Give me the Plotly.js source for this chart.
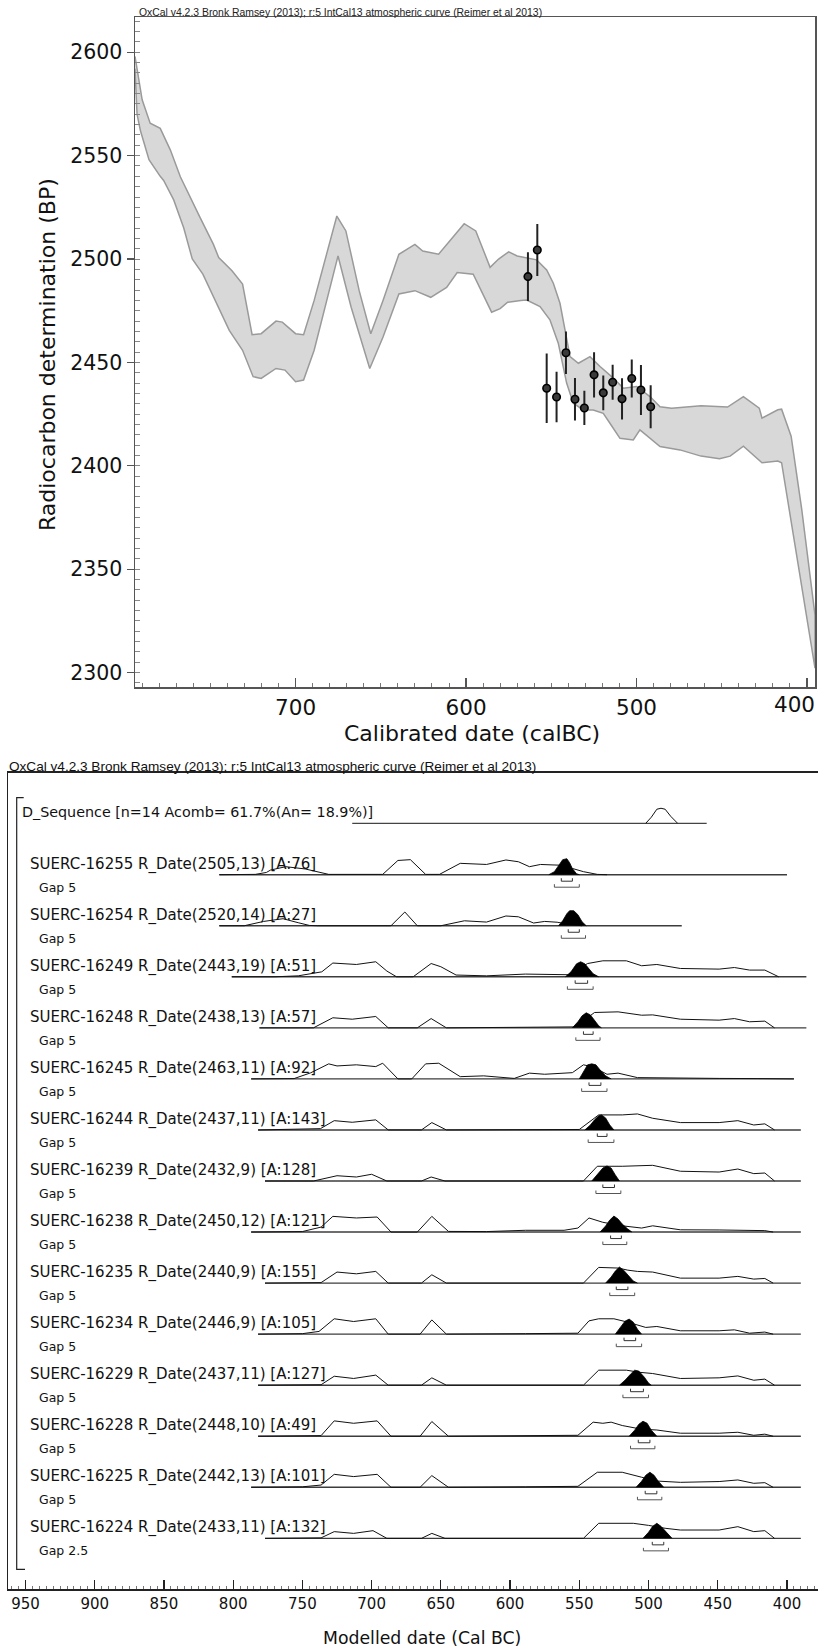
<!DOCTYPE html>
<html><head><meta charset="utf-8">
<script src="https://cdn.plot.ly/plotly-3.0.1.min.js"></script>
<style>html,body{margin:0;padding:0;background:#fff}#chart{width:818px;height:1647px}</style>
</head><body><div id="chart"></div>
<script>
// ---------------- Top panel data: IntCal13 band and measurements ----------------
const curveUpperDate = [794.2,790,785.3,779.4,773.5,767.6,756,748.2,745.1,737.3,731.1,725.5,720.2,711.5,707.8,700,695.3,689.1,675.8,670.5,662.7,655.9,648.7,639.4,630,625.4,616.1,609.8,601.1,594.3,585.9,580.9,575,570,564.4,558.6,552.7,548.8,544.9,542,539,534.1,527.3,521.4,513.6,507.7,499.9,492.1,486.2,479.4,462.2,446.6,437.3,428,426.4,417.1,414.9,409.3,403.1,395.3];
const curveUpperBP = [2598,2577,2565.7,2563.2,2552.8,2539.8,2520,2507.1,2500.7,2494.3,2487.9,2463.4,2463.9,2470,2469.5,2463.9,2463.4,2480,2520.8,2513.6,2484.7,2463.9,2480,2502.3,2507.1,2503.9,2502.3,2508.7,2517.1,2513.6,2496,2500,2503.5,2501.5,2500.4,2499.6,2494.7,2488.3,2478.6,2465.7,2452.8,2449.6,2452.8,2448,2442.4,2437.5,2438.3,2433.5,2428.6,2427.9,2429,2428.4,2433.5,2427.9,2423.1,2427.1,2427.4,2414.3,2379.1,2327.8];
const curveLowerDate = [794.2,793,791,786,779.4,777.4,771.5,765.6,760.6,754.4,745.1,738.9,731.1,724.9,720.2,711.5,706.2,700,695.3,689.1,675.1,667.4,656.5,648.7,639.4,630,620.7,611.4,605.2,595.8,585,580,575.6,567.9,564.4,556.6,550.8,545.9,541,537.1,531.2,525.4,519.5,515.6,509.7,501.9,498,486.2,474.5,462.2,451.3,445.1,437.3,426.4,417.1,414.9,395.3];
const curveLowerBP = [2592,2570,2562,2548,2540,2538,2528.6,2515,2500,2492.7,2476.7,2465.5,2455.9,2443.1,2442.3,2447.1,2446.3,2440.7,2441.5,2455.9,2501.5,2476.7,2447.1,2462.3,2483.1,2484.7,2481.5,2486.3,2493.5,2492.7,2474.3,2476,2479.1,2480,2480.2,2477,2470.6,2459.3,2440,2430.3,2427,2427,2425.4,2420.6,2413.3,2412.5,2417.4,2409.3,2407.7,2404.7,2403.4,2404.7,2409.5,2401.5,2402.3,2401.5,2302.2];
const pointDate = [563.7,558.2,552.7,546.9,541.4,536.1,530.6,524.9,519.5,514,508.5,502.8,497.4,491.7];
const pointBP = [2491.5,2504.4,2437.5,2433.3,2454.7,2432.2,2428,2444,2435.3,2440.4,2432.4,2442.2,2436.7,2428.6];
const pointErr = [11.3,12.1,16.3,11.7,9.8,9.8,7.8,10.5,7.9,8,9.5,8.7,11.6,9.9];
const topTicksBP = [2300,2350,2400,2450,2500,2550,2600];
const topTicksCal = [400,500,600,700];

// ---------------- Bottom panel data: OxCal multiplot ----------------
const sampleNames = ['SUERC-16255','SUERC-16254','SUERC-16249','SUERC-16248','SUERC-16245','SUERC-16244','SUERC-16239','SUERC-16238','SUERC-16235','SUERC-16234','SUERC-16229','SUERC-16228','SUERC-16225','SUERC-16224'];
const sampleAge = [2505,2520,2443,2438,2463,2437,2432,2450,2440,2446,2437,2448,2442,2433];
const sampleSigma = [13,14,19,13,11,11,9,12,9,9,11,10,13,11];
const sampleAgreement = [76,27,51,57,92,143,128,121,155,105,127,49,101,132];
const gapValues = [5,5,5,5,5,5,5,5,5,5,5,5,5,2.5];
const sequenceLabel = 'D_Sequence [n=14 Acomb= 61.7%(An= 18.9%)]';
const sequenceSpan = [714,458];
const sequenceDate = [502,498,494,491,488,484,479];
const sequenceProb = [0,38,88,94,88,44,0];
const spanStart = [810,810,801,781,787,782,777,787,777,782,782,782,787,777];
const spanEnd = [400,476,386,386,395,390,390,390,390,390,390,390,390,390];
const likDate = [
 [810,790,784,776,773,762,748,731,692,681,672,661,651,636,617,603,594,586,578,569,562,555,547,537,530],
 [810,792,778,764,753,745,739,686,676,667,650,633,617,603,594,583,575,566,560,553,548],
 [801,770,753,736,728,711,697,689,682,670,657,650,639,617,589,566,558,544,533,516,505,494,477,449,438,427,416,406],
 [781,742,728,714,697,688,667,657,646,569,553,539,522,505,497,477,449,438,427,416,409],
 [787,756,744,731,725,711,697,692,681,671,661,651.5,636,619,597,586,575,555,547,540,530,522,508,477,449,421,395],
 [782,737,727,714,697,688,664,656.5,646,550,536,519,508,497,477,449,435.5,424,416,409],
 [777,742,725,711,700,689,664,657,647,547,537,519,497,477,449,435.5,424,416,409],
 [787,750,736.5,728,711,696,686,667,656.5,644.5,617,589,561,551,543,533,520,505,497,477,449,435.5,416,410],
 [777,736.5,725,711,697,688,664,656.5,646,547,536,522,515,508,497,477,449,435.5,424,416,410],
 [782,750,738,727,713,697,688,665,656.5,646,589,551,543,536,525,515,502,494,477,449,438,427,416,410],
 [782,736.5,727,713,697,688,664,656.5,646,547,536,516,507,497,477,449,435.5,424,416,409],
 [782,736.5,727,713,696,686,665,656.5,644.5,589,551,540,533,527,519,505,494,477,449,435.5,424,416,410],
 [787,750,736.5,727,713,696,686,665,656.5,644.5,589,551,537,519,505,494,477,449,435.5,424,416,410],
 [777,736.5,727,713,699,689,664,656.5,647,547,536,511,500,488,477,449,435.5,424,416,409]
];
const likProb = [
 [0,0,2,14,29,50,36,2,2,89,94,2,2,71,64,92,81,50,64,61,59,39,19,2,0],
 [0,0,27,44,19,2,0,0,86,0,0,31,23,61,56,17,27,22,13,3,0],
 [0,0,6,31,86,77,94,36,0,0,83,63,11,6,17,11,13,83,100,100,69,77,52,48,58,42,42,0],
 [0,0,63,54,71,0,0,58,0,4,6,96,100,79,81,54,48,58,38,42,0],
 [0,2,38,94,81,88,77,98,0,0,94,98,14,19,3,36,29,39,88,75,29,36,8,3,3,2,0],
 [0,8,58,48,63,0,0,46,0,3,94,94,100,73,46,46,58,31,38,0],
 [0,0,33,25,42,0,0,25,0,0,92,92,98,61,56,75,46,50,0],
 [0,3,31,98,88,94,0,0,98,4,3,11,11,25,88,61,40,25,39,14,13,13,9,0],
 [0,3,69,58,73,0,0,52,0,0,98,94,81,73,69,31,31,42,25,29,0],
 [0,3,17,96,79,96,0,0,89,0,3,6,83,96,96,75,42,48,21,21,27,6,13,0],
 [0,3,56,42,63,0,0,46,0,0,94,94,81,73,42,46,58,31,38,0],
 [0,4,96,81,96,0,0,92,0,4,6,88,81,88,67,44,39,19,19,25,6,13,0],
 [0,3,14,81,67,81,0,0,73,0,3,6,94,94,63,39,31,36,46,25,29,0],
 [0,3,42,31,48,0,0,31,0,0,94,94,81,63,52,52,73,42,48,0]
];
const postDate = [
 [572,568,565,562,559,557,555,552,550],
 [565,562,559,557,554,551,548,545],
 [560,556,552,549,546,543,540,536],
 [555,551,548,545,542,539,536,534],
 [550,547,544,541,538,535,531,527],
 [546,542,539,536,534,531,528,525],
 [541,537,533,530,527,524,521],
 [535,531,528,525,522,519,515,512],
 [531,527,524,521,518,514,511,508],
 [524,520,517,514,511,508,505],
 [521,517,513,510,507,503,500,498],
 [514,510,507,504,501,498,494],
 [509,505,502,499,496,493,489],
 [504,500,497,494,491,487,483]
];
const postProb = [
 [0,19,56,94,100,75,38,6,0],
 [0,31,75,94,94,69,25,0],
 [0,31,81,94,81,50,19,0],
 [0,38,75,94,81,44,13,0],
 [0,44,88,94,88,56,19,0],
 [0,31,63,88,94,75,31,0],
 [0,38,81,94,81,38,0],
 [0,38,75,100,81,50,19,0],
 [0,38,75,100,81,38,13,0],
 [0,44,81,94,75,31,0],
 [0,31,69,94,88,50,13,0],
 [0,38,75,94,81,38,0],
 [0,38,75,94,75,38,0],
 [0,38,75,94,75,38,0]
];
const range68From = [563,558,553,547,543,537,533,527.4,523.3,517.7,513,507.4,502.4,497.3];
const range68To   = [555,550,544,540,534.4,530,524.6,519.6,514.9,509.3,503.7,499,494,489];
const range95From = [568,563,558.6,552.5,548.3,543.6,538,533,528,523.3,518.5,513,508,503.7];
const range95To   = [550,545.5,540,535,530,525,520,515.7,510,505,500,495.4,490.4,485.6];
const bottomTicks = [400,450,500,550,600,650,700,750,800,850,900,950];

// ---------------- geometry (layout only) ----------------
const W = 818, H = 1647;
const FONT = 'DejaVu Sans, Verdana, sans-serif';
const px = v => v / W;            // x pixel -> paper
const py = v => 1 - v / H;        // y pixel -> paper
const BOT_TOP = 772.7, BOT_BOTTOM = 1589.3;
const rowBase = i => (BOT_BOTTOM - 874.7) - 51.05 * i;   // y2 units = pixels
const seqBase = BOT_BOTTOM - 823.3;
const PROB_PX = 0.16;
const TOP_X_RANGE = [794.2, 395.3];

const traces = [];
traces.push({
  x: curveUpperDate.concat(curveLowerDate.slice().reverse()),
  y: curveUpperBP.concat(curveLowerBP.slice().reverse()),
  xaxis:'x', yaxis:'y', mode:'lines', fill:'toself', fillcolor:'#d8d8d8',
  line:{color:'#9a9a9a', width:1.5}, hoverinfo:'skip', showlegend:false
});
traces.push({
  x: pointDate, y: pointBP, xaxis:'x', yaxis:'y', mode:'markers',
  marker:{color:'#3a3a3a', size:7.5, line:{color:'#000', width:1.6}},
  error_y:{type:'data', array:pointErr, visible:true, color:'#222', thickness:2, width:1},
  showlegend:false
});

traces.push({x: sequenceSpan, y:[seqBase, seqBase], xaxis:'x2', yaxis:'y2', mode:'lines', line:{color:'#444', width:1.3}, showlegend:false, hoverinfo:'skip'});
traces.push({x: sequenceDate, y: sequenceProb.map(p => seqBase + p*PROB_PX), xaxis:'x2', yaxis:'y2', mode:'lines', line:{color:'#111', width:1}, showlegend:false});

const annotations = [];
const shapes = [];
sampleNames.forEach((name, i) => {
  const b = rowBase(i);
  traces.push({x:[spanStart[i], spanEnd[i]], y:[b,b], xaxis:'x2', yaxis:'y2', mode:'lines', line:{color:'#3c3c3c', width:1.4}, showlegend:false, hoverinfo:'skip'});
  traces.push({x: likDate[i], y: likProb[i].map(p => b + p*PROB_PX), xaxis:'x2', yaxis:'y2', mode:'lines', line:{color:'#111', width:1}, showlegend:false});
  traces.push({x: postDate[i], y: postProb[i].map(p => b + p*PROB_PX), xaxis:'x2', yaxis:'y2', mode:'lines', fill:'toself', fillcolor:'#000', line:{color:'#000', width:0.8}, showlegend:false});
  traces.push({x:[range68From[i],range68From[i],range68To[i],range68To[i]], y:[b-3.5,b-6.5,b-6.5,b-3.5], xaxis:'x2', yaxis:'y2', mode:'lines', line:{color:'#333', width:1}, showlegend:false, hoverinfo:'skip'});
  traces.push({x:[range95From[i],range95From[i],range95To[i],range95To[i]], y:[b-9.5,b-12.5,b-12.5,b-9.5], xaxis:'x2', yaxis:'y2', mode:'lines', line:{color:'#555', width:1}, showlegend:false, hoverinfo:'skip'});
  annotations.push({xref:'paper', yref:'y2', x:px(27.5), y:b+10.4, xanchor:'left', yanchor:'middle', showarrow:false,
    text: name + ' R_Date(' + sampleAge[i] + ',' + sampleSigma[i] + ') [A:' + sampleAgreement[i] + ']',
    font:{family:FONT, size:15, color:'#111'}});
  annotations.push({xref:'paper', yref:'y2', x:px(36.5), y:b-12.6, xanchor:'left', yanchor:'middle', showarrow:false,
    text:'Gap ' + gapValues[i], font:{family:FONT, size:12.5, color:'#111'}});
});
annotations.push({xref:'paper', yref:'y2', x:px(19.5), y:seqBase+11, xanchor:'left', yanchor:'middle', showarrow:false,
  text: sequenceLabel, font:{family:FONT, size:14.3, color:'#111'}});

// the right-most top tick label sits against the page edge: draw it right-aligned so it is not clipped
const edgeTick = Math.min.apply(null, topTicksCal);
annotations.push({xref:'paper', yref:'paper', x:px(817), y:py(704), xanchor:'right', yanchor:'middle', showarrow:false,
  text:String(edgeTick), font:{family:FONT, size:21.5, color:'#111'}});

const header = 'OxCal v4.2.3 Bronk Ramsey (2013); r:5 IntCal13 atmospheric curve (Reimer et al 2013)';
annotations.push({xref:'paper', yref:'paper', x:px(137), y:py(12), xanchor:'left', yanchor:'middle', showarrow:false, text:header, font:{family:'Liberation Sans, Arial, sans-serif', size:10.4, color:'#222'}});
annotations.push({xref:'paper', yref:'paper', x:px(7), y:py(766), xanchor:'left', yanchor:'middle', showarrow:false, text:header, font:{family:'Liberation Sans, Arial, sans-serif', size:13.6, color:'#111'}});
annotations.push({xref:'paper', yref:'paper', x:px(471.5), y:py(733), xanchor:'center', yanchor:'middle', showarrow:false, text:'Calibrated date (calBC)', font:{family:FONT, size:22, color:'#111'}});
annotations.push({xref:'paper', yref:'paper', x:px(47), y:py(355), xanchor:'center', yanchor:'middle', showarrow:false, textangle:-90, text:'Radiocarbon determination (BP)', font:{family:FONT, size:22, color:'#111'}});
annotations.push({xref:'paper', yref:'paper', x:px(422), y:py(1637.7), xanchor:'center', yanchor:'middle', showarrow:false, text:'Modelled date (Cal BC)', font:{family:FONT, size:17.3, color:'#111'}});

shapes.push({type:'path', xref:'paper', yref:'paper', line:{color:'#222', width:1.2},
  path:'M '+px(23.7)+' '+py(797.7)+' L '+px(16.7)+' '+py(797.7)+' L '+px(16.7)+' '+py(1569.3)+' L '+px(25)+' '+py(1569.3)});

const layout = {
  width:W, height:H, margin:{l:0,r:0,t:0,b:0}, paper_bgcolor:'#fff', plot_bgcolor:'rgba(0,0,0,0)',
  showlegend:false, font:{family:FONT, color:'#111'},
  xaxis:{domain:[px(135), px(815)], anchor:'y', range:TOP_X_RANGE, showgrid:false, zeroline:false,
    showline:true, mirror:true, linecolor:'#555', linewidth:1.5,
    tickmode:'array', tickvals:topTicksCal, ticktext:topTicksCal.map(v => v === edgeTick ? '' : String(v)),
    ticks:'inside', ticklen:9, tickcolor:'#555', tickwidth:1.2,
    minor:{dtick:10, tick0:0, ticks:'inside', ticklen:4, tickcolor:'#777', tickwidth:1},
    tickfont:{family:FONT, size:21.5, color:'#111'}},
  yaxis:{domain:[py(687.3), py(17.3)], anchor:'x', range:[2292.9, 2616.9], showgrid:false, zeroline:false,
    showline:true, mirror:true, linecolor:'#555', linewidth:1.5,
    tickmode:'array', tickvals:topTicksBP, ticktext:topTicksBP.map(String),
    ticks:'outside', ticklen:7, tickcolor:'#555', tickwidth:1.2,
    minor:{dtick:5, tick0:0, ticks:'inside', ticklen:5, tickcolor:'#888', tickwidth:1},
    tickfont:{family:FONT, size:20.5, color:'#111'}},
  xaxis2:{domain:[px(8.3), 1], anchor:'y2', range:[962.4, 377.6], showgrid:false, zeroline:false,
    showline:true, mirror:true, linecolor:'#222', linewidth:1.5,
    tickmode:'array', tickvals:bottomTicks, ticktext:bottomTicks.map(String),
    ticks:'inside', ticklen:9, tickcolor:'#222', tickwidth:1.2,
    minor:{dtick:5, tick0:0, ticks:'inside', ticklen:3.5, tickcolor:'#777', tickwidth:1},
    tickfont:{family:FONT, size:15, color:'#111'}},
  yaxis2:{domain:[py(BOT_BOTTOM), py(BOT_TOP)], anchor:'x2', range:[0, BOT_BOTTOM-BOT_TOP], showgrid:false, zeroline:false,
    showline:true, linecolor:'#222', linewidth:1.5, showticklabels:false, ticks:''},
  annotations: annotations, shapes: shapes
};
Plotly.newPlot('chart', traces, layout, {staticPlot:true, displayModeBar:false});
</script></body></html>
